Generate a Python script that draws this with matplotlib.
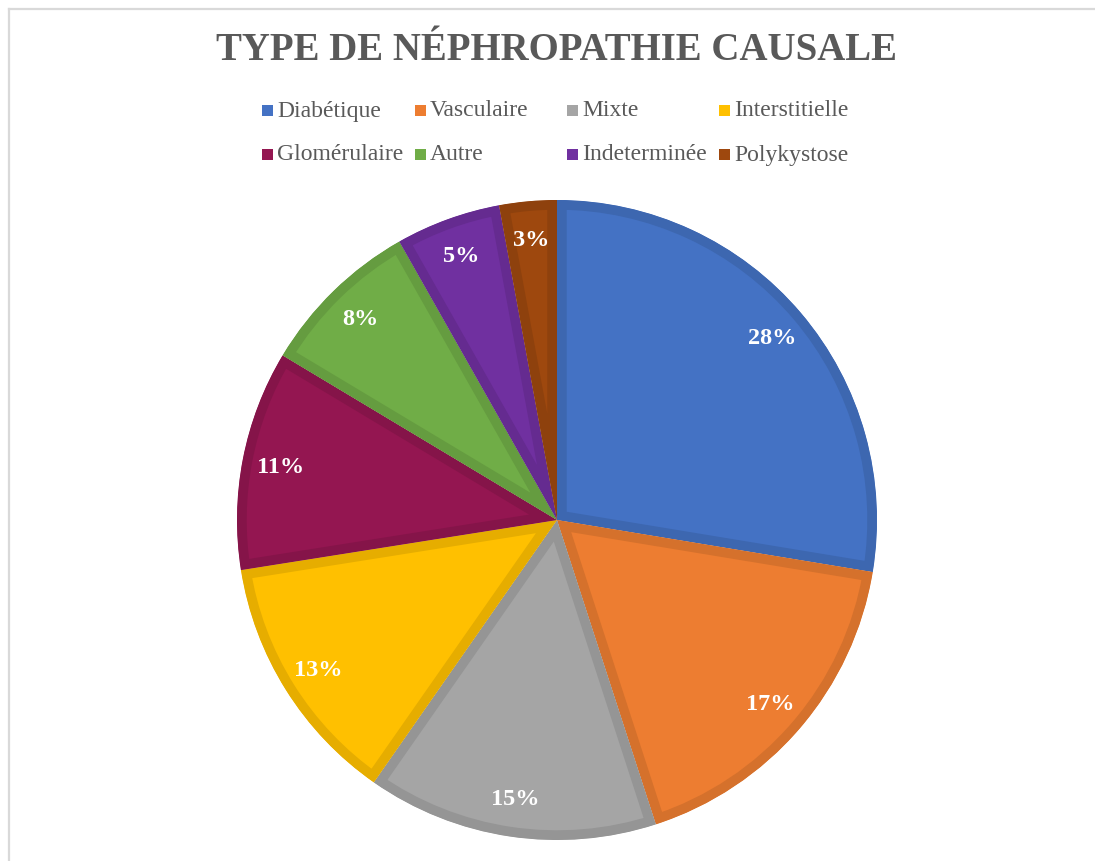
import matplotlib
matplotlib.use("Agg")
import matplotlib.pyplot as plt
from matplotlib.patches import Rectangle
from matplotlib.lines import Line2D
import matplotlib.colors as mcolors

categories = ["Diabétique", "Vasculaire", "Mixte", "Interstitielle",
              "Glomérulaire", "Autre", "Indeterminée", "Polykystose"]
values = [27.6, 17.4, 14.7, 12.8, 11.1, 8.2, 5.3, 2.9]
colors = ["#4472C4", "#ED7D31", "#A5A5A5", "#FFC000",
          "#941651", "#70AD47", "#7030A0", "#9E480E"]
title = "TYPE DE NÉPHROPATHIE CAUSALE"

W, H = 1095, 862
fig = plt.figure(figsize=(W / 100, H / 100), dpi=100)
fig.patch.set_facecolor("white")

def fx(x):
    return x / W

def fy(y):
    return 1 - y / H

# chart-area frame (only top and left edges visible)
fig.add_artist(Line2D([fx(9), fx(W + 5)], [fy(10), fy(10)], color="#D9D9D9", lw=1.6))
fig.add_artist(Line2D([fx(9), fx(9)], [fy(10), fy(H + 5)], color="#D9D9D9", lw=1.6))

cx, cy, r = 557, 521, 320
ax = fig.add_axes([fx(cx - r), fy(cy + r), 2 * r / W, 2 * r / H])
wedges, texts, autotexts = ax.pie(
    values, colors=colors, startangle=90, counterclock=False,
    autopct=lambda p: f"{p:.0f}%", pctdistance=0.88, radius=1,
    textprops=dict(family="Liberation Serif", fontweight="bold",
                   fontsize=17.5, color="white"))
ax.set_xlim(-1, 1)
ax.set_ylim(-1, 1)
for w, c in zip(wedges, colors):
    rgb = mcolors.to_rgb(c)
    dark = tuple(v * 0.9 for v in rgb)
    w.set_edgecolor(dark)
    w.set_linewidth(14)
    w.set_joinstyle("miter")
    w.set_clip_on(True)
    w.set_clip_path(w.get_path(), w.get_transform())
ax.axis("off")

fig.text(fx(557), fy(50), title, ha="center", va="center",
         family="Liberation Serif", fontweight="bold", fontsize=28,
         color="#595959")

# legend (4 columns x 2 rows)
col_x0, col_dx = 262, 152.5
row_y = [111, 155]
for i, (cat, c) in enumerate(zip(categories, colors)):
    col, row = i % 4, i // 4
    x = col_x0 + col * col_dx
    y = row_y[row]
    fig.add_artist(Rectangle((fx(x), fy(y + 5.5)), 11 / W, 11 / H,
                             facecolor=c, edgecolor="none",
                             transform=fig.transFigure))
    fig.text(fx(x + 15), fy(y), cat, ha="left", va="center",
             family="Liberation Serif", fontsize=17, color="#595959")

fig.savefig("out.png", dpi=100, facecolor="white")
